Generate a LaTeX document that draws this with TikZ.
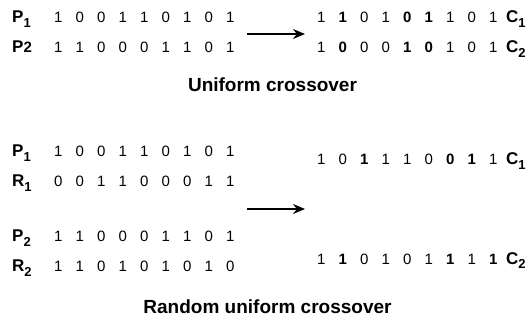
\documentclass[tikz,border=0pt]{standalone}
\usepackage{fontspec}
\setmainfont{Liberation Sans}
\usetikzlibrary{arrows.meta}
\newcommand\bd[1]{\makebox[21.5pt]{#1}}
\newcommand\bb[1]{\makebox[21.5pt]{\bfseries #1}}
\newcommand\lbl[2]{{\fontsize{17}{17}\selectfont\bfseries #1\raisebox{-5pt}{\fontsize{13}{13}\selectfont #2}}}
\begin{document}
\begin{tikzpicture}[x=1pt,y=-1pt,
  bits/.style={anchor=base west,inner sep=0pt,font=\fontsize{15}{15}\selectfont},
  lab/.style={anchor=base west,inner sep=0pt},
  title/.style={anchor=base,inner sep=0pt,font=\fontsize{19}{19}\selectfont\bfseries},
  arr/.style={line width=1.3pt,-{Stealth[length=12pt,width=10pt]}}]
\useasboundingbox (0,0) rectangle (530,323);
% ---- Uniform crossover ----
\node[lab] (lp1) at (12,23) {\lbl{P}{1}};
\node[bits] (p1) at (47.25,23) {\bd1\bd0\bd0\bd1\bd1\bd0\bd1\bd0\bd1};
\node[lab] (lp2) at (12,53) {{\fontsize{17}{17}\selectfont\bfseries P{\fontsize{15}{15}\selectfont 2}}};
\node[bits] (p2) at (47.25,53) {\bd1\bd1\bd0\bd0\bd0\bd1\bd1\bd0\bd1};
\node[bits] (c1) at (310.25,23) {\bd1\bb1\bd0\bd1\bb0\bb1\bd1\bd0\bd1};
\node[lab] (lc1) at (506,23) {\lbl{C}{1}};
\node[bits] (c2) at (310.25,53) {\bd1\bb0\bd0\bd0\bb1\bb0\bd1\bd0\bd1};
\node[lab] (lc2) at (506,53) {\lbl{C}{2}};
\coordinate (a1s) at (247,34);
\coordinate (a1e) at (305,34);
\draw[arr] (a1s) -- (a1e);
\node[title] (t1) at (272.5,92) {Uniform crossover};
% ---- Random uniform crossover ----
\node[lab] (lp1b) at (12,157) {\lbl{P}{1}};
\node[bits] (p1b) at (47.25,157) {\bd1\bd0\bd0\bd1\bd1\bd0\bd1\bd0\bd1};
\node[lab] (lr1) at (12,187) {\lbl{R}{1}};
\node[bits] (r1) at (47.25,187) {\bd0\bd0\bd1\bd1\bd0\bd0\bd0\bd1\bd1};
\node[lab] (lp2b) at (12,241) {\lbl{P}{2}};
\node[bits] (p2b) at (47.25,241) {\bd1\bd1\bd0\bd0\bd0\bd1\bd1\bd0\bd1};
\node[lab] (lr2) at (12,271) {\lbl{R}{2}};
\node[bits] (r2) at (47.25,271) {\bd1\bd1\bd0\bd1\bd0\bd1\bd0\bd1\bd0};
\node[bits] (c1b) at (310.25,165) {\bd1\bd0\bb1\bd1\bd1\bd0\bb0\bb1\bd1};
\node[lab] (lc1b) at (506,165) {\lbl{C}{1}};
\node[bits] (c2b) at (310.25,264) {\bd1\bb1\bd0\bd1\bd0\bd1\bb1\bd1\bb1};
\node[lab] (lc2b) at (506,264) {\lbl{C}{2}};
\coordinate (a2s) at (247,209);
\coordinate (a2e) at (305,209);
\draw[arr] (a2s) -- (a2e);
\node[title] (t2) at (267.5,313) {Random uniform crossover};
\end{tikzpicture}
\end{document}
